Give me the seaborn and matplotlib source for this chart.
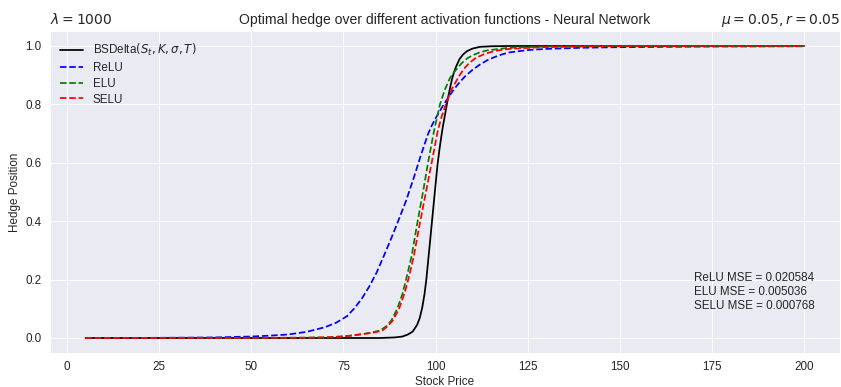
import matplotlib
matplotlib.use("Agg")
import matplotlib.pyplot as plt
import seaborn as sns
import pandas as pd

# Black-Scholes delta of the call, sampled along the stock price axis
price_bs = [5, 70, 85, 89, 91, 92.5, 93.8, 95, 95.7, 96.4, 97, 97.5, 98, 98.5, 99,
            99.5, 100, 100.5, 101, 101.5, 102, 102.5, 103, 103.5, 104, 104.5, 105,
            105.6, 106.5, 107.4, 108.5, 110, 112, 115, 120, 200]
delta_bs = [0, 0, 0, 0.002, 0.005, 0.012, 0.022, 0.045, 0.068, 0.105, 0.15, 0.2,
            0.265, 0.33, 0.395, 0.46, 0.525, 0.59, 0.64, 0.685, 0.725, 0.76, 0.795,
            0.83, 0.86, 0.888, 0.91, 0.93, 0.955, 0.97, 0.982, 0.991, 0.997, 0.999,
            1.0, 1.0]

# Network hedge with ReLU activations
price_relu = [5, 20, 30, 40, 50, 55, 60, 65, 70, 73, 76, 78, 80, 82, 84, 86, 88, 90,
              92, 94, 96, 98, 99, 100, 101, 102, 103, 104, 106, 108, 110, 112, 114,
              116, 118, 120, 125, 130, 140, 150, 175, 200]
hedge_relu = [0, 0.0003, 0.001, 0.002, 0.005, 0.008, 0.012, 0.021, 0.037, 0.052,
              0.075, 0.102, 0.135, 0.176, 0.224, 0.282, 0.342, 0.405, 0.47, 0.545,
              0.625, 0.7, 0.728, 0.752, 0.774, 0.795, 0.815, 0.834, 0.868, 0.896,
              0.918, 0.936, 0.951, 0.962, 0.971, 0.978, 0.986, 0.99, 0.994, 0.996,
              0.998, 0.999]

# Network hedge with ELU activations
price_elu = [5, 50, 65, 70, 74, 77, 80, 82.5, 85, 86.6, 88, 89.6, 91, 92, 93.5, 95,
             96.6, 98.1, 99.6, 101.2, 102.5, 103.9, 105, 106, 107, 108.5, 110, 112,
             114, 120, 130, 145, 200]
hedge_elu = [0, 0.0002, 0.001, 0.002, 0.005, 0.008, 0.013, 0.018, 0.026, 0.04, 0.06,
             0.1, 0.15, 0.2, 0.28, 0.39, 0.5, 0.61, 0.71, 0.8, 0.85, 0.89, 0.91,
             0.925, 0.94, 0.957, 0.968, 0.978, 0.985, 0.994, 0.998, 1.0, 1.0]

# Network hedge with SELU activations
price_selu = [5, 50, 65, 70, 75, 80, 83, 85.5, 87, 88.4, 90.1, 91.5, 92.6, 94.1,
              95.7, 97.4, 99.1, 100.6, 101.7, 102.8, 104.3, 106.3, 107.6, 109, 111,
              113.8, 116.5, 120, 129, 145, 170, 200]
hedge_selu = [0, 0.0002, 0.001, 0.002, 0.005, 0.013, 0.018, 0.025, 0.04, 0.06, 0.1,
              0.15, 0.2, 0.28, 0.39, 0.5, 0.61, 0.71, 0.76, 0.8, 0.85, 0.895, 0.92,
              0.94, 0.96, 0.975, 0.984, 0.99, 0.996, 0.999, 1.0, 1.0]

mse_labels = ["ReLU", "ELU", "SELU"]
mse_values = ["0.020584", "0.005036", "0.000768"]

sns.set_style("darkgrid")
plt.rcParams["font.family"] = ["Liberation Sans", "DejaVu Sans"]

DPI = 84.1
fig = plt.figure(figsize=(841 / DPI, 387 / DPI), dpi=DPI)
ax = fig.add_axes([0.0589, 0.0889, 0.9399, 0.8300])

series = [
    (price_bs, delta_bs, r"BSDelta$(S_t, K, \sigma, T)$", "black", "-"),
    (price_relu, hedge_relu, "ReLU", "blue", "--"),
    (price_elu, hedge_elu, "ELU", "green", "--"),
    (price_selu, hedge_selu, "SELU", "red", "--"),
]
for xs, ys, label, color, ls in series:
    df = pd.DataFrame({"Stock Price": xs, "Hedge Position": ys})
    sns.lineplot(data=df, x="Stock Price", y="Hedge Position", ax=ax,
                 color=color, linestyle=ls, label=label, estimator=None, sort=False)

ax.set_xticks([0, 25, 50, 75, 100, 125, 150, 175, 200])
ax.set_yticks([0.0, 0.2, 0.4, 0.6, 0.8, 1.0])
ax.set_xlabel("Stock Price", labelpad=3)
ax.legend(loc="upper left", frameon=False, labelspacing=0.33)

mse_text = "\n".join(f"{n} MSE = {v}" for n, v in zip(mse_labels, mse_values))
ax.text(170, 0.1, mse_text)

ax.set_title(r"$\lambda = 1000$", loc="left")
ax.set_title("Optimal hedge over different activation functions - Neural Network")
ax.set_title(r"$\mu = 0.05, r = 0.05$", loc="right")

fig.savefig("out.png", dpi=DPI)
